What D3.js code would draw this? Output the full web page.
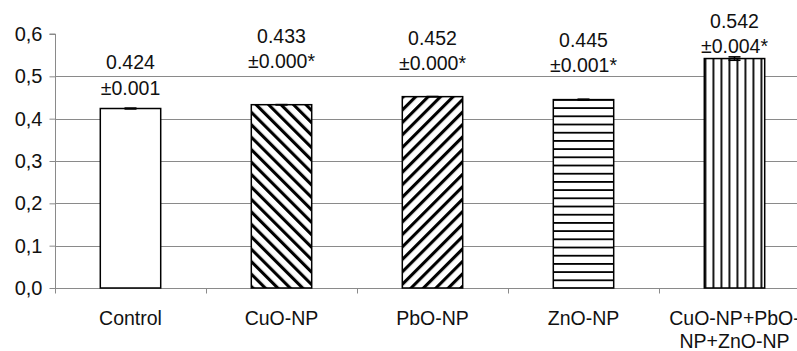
<!DOCTYPE html>
<html>
<head>
<meta charset="utf-8">
<script src="https://cdn.jsdelivr.net/npm/d3@7/dist/d3.min.js"></script>
<style>
  html, body { margin: 0; padding: 0; background: #fff; }
  svg { display: block; font-family: "Liberation Sans", Arial, sans-serif; }
</style>
</head>
<body>
<svg id="chart" width="797" height="351"></svg>
<script>
// ---- data ----
const categories = ["Control", "CuO-NP", "PbO-NP", "ZnO-NP", "CuO-NP+PbO-NP+ZnO-NP"];
const categoryLines = [["Control"], ["CuO-NP"], ["PbO-NP"], ["ZnO-NP"], ["CuO-NP+PbO-", "NP+ZnO-NP"]];
const means = [0.424, 0.433, 0.452, 0.445, 0.542];
const errors = [0.001, 0.000, 0.000, 0.001, 0.004];
const valueLabels = ["0.424", "0.433", "0.452", "0.445", "0.542"];
const errorLabels = ["±0.001", "±0.000*", "±0.000*", "±0.001*", "±0.004*"];
const yTicks = [0, 0.1, 0.2, 0.3, 0.4, 0.5, 0.6];
const yTickLabels = ["0,0", "0,1", "0,2", "0,3", "0,4", "0,5", "0,6"];

// ---- layout ----
const patterns = ["none", "diagDown", "diagUp", "horiz", "vert"];
const labelAnchor = [0.456, 0.519, 0.514, 0.510, 0.554]; // value level of second label line baseline
const fontSize = 19.5;

const svg = d3.select("#chart");
const W = 797, H = 351;
const plotLeft = 55, plotTop = 34, plotBottom = 288;

const x = d3.scaleBand().domain(categories).range([plotLeft, plotLeft + 151 * 5]).paddingInner(0).paddingOuter(0);
const y = d3.scaleLinear().domain([0, 0.6]).range([plotBottom, plotTop]);
const barW = x.bandwidth() * 0.4;

// patterns
const defs = svg.append("defs");
function diag(id, angle) {
  const p = defs.append("pattern").attr("id", id).attr("patternUnits", "userSpaceOnUse")
    .attr("width", 8.8).attr("height", 10).attr("patternTransform", `rotate(${angle})`);
  p.append("rect").attr("width", 8.8).attr("height", 10).attr("fill", "#fff");
  p.append("rect").attr("x", 0).attr("width", 3.1).attr("height", 10).attr("fill", "#000");
}
diag("diagDown", -45);
diag("diagUp", 45);
{
  const p = defs.append("pattern").attr("id", "horiz").attr("patternUnits", "userSpaceOnUse")
    .attr("width", 10).attr("height", 8.2).attr("y", 0.6);
  p.append("rect").attr("width", 10).attr("height", 8.2).attr("fill", "#fff");
  p.append("rect").attr("y", 0).attr("width", 10).attr("height", 1.8).attr("fill", "#000");
}
{
  const p = defs.append("pattern").attr("id", "vert").attr("patternUnits", "userSpaceOnUse")
    .attr("width", 8).attr("height", 10).attr("x", 0.5);
  p.append("rect").attr("width", 8).attr("height", 10).attr("fill", "#fff");
  p.append("rect").attr("x", 0).attr("width", 1.8).attr("height", 10).attr("fill", "#000");
}

// gridlines
svg.append("g").selectAll("line").data(yTicks.filter(t => t > 0 && t < 0.6)).join("line")
  .attr("x1", plotLeft).attr("x2", W + 20)
  .attr("y1", d => Math.round(y(d)) + 0.5).attr("y2", d => Math.round(y(d)) + 0.5)
  .attr("stroke", "#8a8a8a").attr("stroke-width", 1);

// y axis
const yAxis = d3.axisLeft(y).tickValues(yTicks).tickSize(6).tickPadding(7)
  .tickFormat((d, i) => yTickLabels[i]);
const gy = svg.append("g").attr("transform", `translate(${plotLeft + 0.5},0)`).call(yAxis);
gy.select(".domain").attr("stroke", "#8a8a8a").attr("d", `M-6,${plotTop}H0V${plotBottom}`);
gy.selectAll(".tick line").attr("stroke", "#8a8a8a");
gy.selectAll(".tick text").attr("font-size", 20).attr("fill", "#111")
  .attr("font-family", "'Liberation Sans', Arial, sans-serif");

// x axis
const gx = svg.append("g").attr("transform", `translate(0,${plotBottom + 0.5})`);
gx.append("line").attr("x1", plotLeft).attr("x2", W + 20).attr("stroke", "#8a8a8a");
const bounds = categories.map(c => x(c)).concat([x(categories[4]) + x.step()]);
gx.selectAll("line.tk").data(bounds).join("line").attr("class", "tk")
  .attr("x1", d => Math.round(d) + 0.5).attr("x2", d => Math.round(d) + 0.5)
  .attr("y1", 0).attr("y2", 5).attr("stroke", "#8a8a8a");
gx.selectAll("text").data(categories).join("text")
  .attr("x", d => x(d) + x.bandwidth() / 2)
  .attr("text-anchor", "middle").attr("font-size", fontSize).attr("fill", "#111")
  .each(function (d, i) {
    d3.select(this).selectAll("tspan").data(categoryLines[i]).join("tspan")
      .attr("x", x(d) + x.bandwidth() / 2)
      .attr("y", (t, j) => 36 + j * 23)
      .text(t => t);
  });

// bars
svg.append("g").selectAll("rect").data(categories).join("rect")
  .attr("x", d => x(d) + (x.bandwidth() - barW) / 2)
  .attr("y", (d, i) => y(means[i]))
  .attr("width", barW)
  .attr("height", (d, i) => y(0) - y(means[i]))
  .attr("fill", (d, i) => patterns[i] === "none" ? "#fff" : `url(#${patterns[i]})`)
  .attr("stroke", "#000").attr("stroke-width", 1.5);

// error bars
const eg = svg.append("g");
categories.forEach((c, i) => {
  const cx = x(c) + x.bandwidth() / 2;
  const hi = y(means[i] + errors[i]), lo = y(means[i] - errors[i]);
  eg.append("line").attr("x1", cx).attr("x2", cx).attr("y1", hi).attr("y2", lo)
    .attr("stroke", "#000").attr("stroke-width", 1.5);
  [hi, lo].forEach(yy => {
    eg.append("line").attr("x1", cx - 6).attr("x2", cx + 6).attr("y1", yy).attr("y2", yy)
      .attr("stroke", "#000").attr("stroke-width", 1.6);
  });
});

// value labels
const lg = svg.append("g").attr("font-size", fontSize).attr("fill", "#111").attr("text-anchor", "middle");
categories.forEach((c, i) => {
  const cx = x(c) + x.bandwidth() / 2;
  const b2 = y(labelAnchor[i]);
  lg.append("text").attr("x", cx).attr("y", b2 - 25.5).text(valueLabels[i]);
  lg.append("text").attr("x", cx).attr("y", b2).text(errorLabels[i]);
});
</script>
</body>
</html>
